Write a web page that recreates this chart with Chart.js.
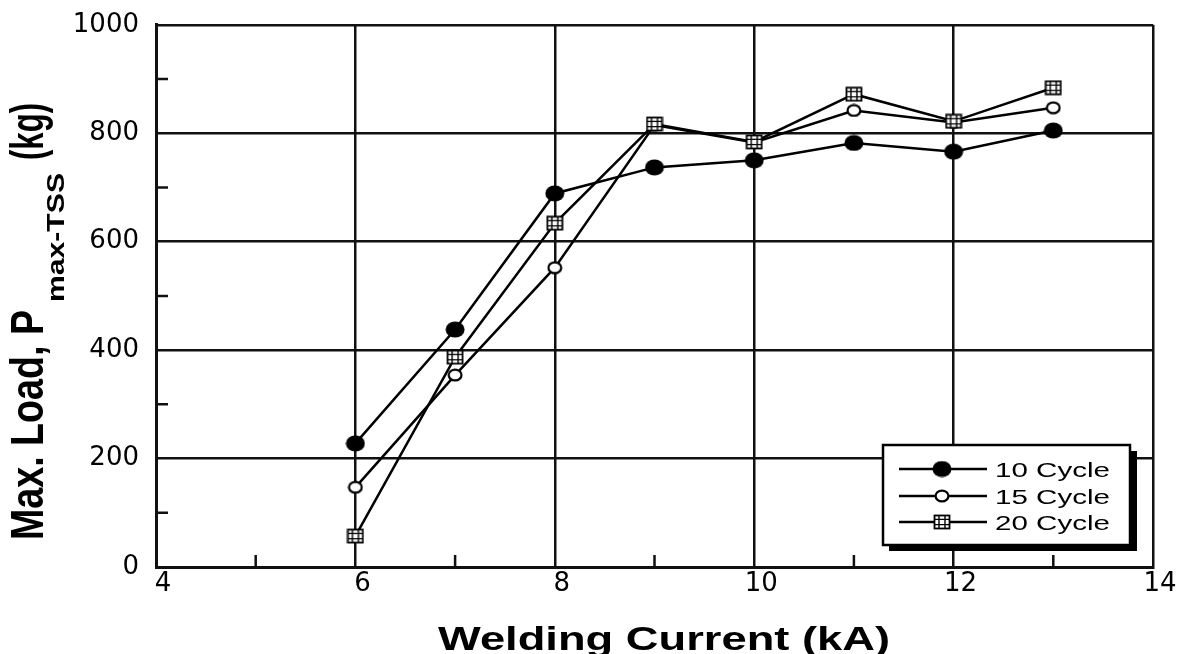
<!DOCTYPE html>
<html><head><meta charset="utf-8">
<script src="https://cdn.jsdelivr.net/npm/chart.js@4"></script>
<style>html,body{margin:0;padding:0;background:#fff;overflow:hidden}#wrap{width:1185px;height:654px;position:relative}</style>
</head><body><div id="wrap"><canvas id="c" width="1185" height="654"></canvas></div>
<script>
const currents = [6, 7, 8, 9, 10, 11, 12, 13];
const load10 = [228, 438, 689, 737, 750, 782, 766, 805];
const load15 = [147, 354, 552, 815, 783, 842, 820, 847];
const load20 = [57, 387, 634, 817, 784, 872, 822, 884];
const seriesNames = ['10 Cycle', '15 Cycle', '20 Cycle'];
const xTicks = [4, 6, 8, 10, 12, 14];
const yTicks = [0, 200, 400, 600, 800, 1000];
const xMinor = [5, 7, 9, 11, 13];
const yMinor = [100, 300, 500, 700, 900];
const xTitle = 'Welding Current (kA)';
const yTitleMain = 'Max. Load, P';
const yTitleSub = 'max-TSS';
const yTitleUnit = '(kg)';

function mk(w, h, draw) { const c = document.createElement('canvas'); c.width = w; c.height = h; draw(c.getContext('2d'), w, h); return c; }
const mFilled = mk(20, 17, (g, w, h) => { g.fillStyle = '#000'; g.beginPath(); g.ellipse(w/2, h/2, w/2 - 0.5, h/2 - 0.5, 0, 0, Math.PI*2); g.fill(); });
const mOpen = mk(16, 14, (g, w, h) => { g.fillStyle = '#fff'; g.strokeStyle = '#000'; g.lineWidth = 2.2; g.beginPath(); g.ellipse(w/2, h/2, w/2 - 1.6, h/2 - 1.6, 0, 0, Math.PI*2); g.fill(); g.stroke(); });
const mSquare = mk(18, 16, (g, w, h) => {
  g.fillStyle = '#fff'; g.fillRect(1, 1, w - 2, h - 2);
  g.strokeStyle = '#000'; g.lineWidth = 1.8; g.strokeRect(1.5, 1.5, w - 3, h - 3);
  g.lineWidth = 1.4; g.beginPath();
  g.moveTo(w/3, 1); g.lineTo(w/3, h - 1); g.moveTo(2*w/3, 1); g.lineTo(2*w/3, h - 1);
  g.moveTo(1, h/3); g.lineTo(w - 1, h/3); g.moveTo(1, 2*h/3); g.lineTo(w - 1, 2*h/3);
  g.stroke();
});
const markers = [mFilled, mOpen, mSquare];

function drawFit(ctx, text, size, weight, len, cap, x, y, rot) {
  ctx.save();
  ctx.font = weight + ' ' + size + 'px "Liberation Sans", Arial, sans-serif';
  const w = ctx.measureText(text).width;
  ctx.translate(x, y);
  if (rot) ctx.rotate(-Math.PI / 2);
  ctx.scale(len / w, cap / (0.716 * size));
  ctx.textBaseline = 'alphabetic'; ctx.textAlign = 'left'; ctx.fillStyle = '#000';
  ctx.fillText(text, 0, 0);
  ctx.restore();
}

const decor = {
  id: 'decor',
  beforeDatasetsDraw(chart) {
    const ctx = chart.ctx, xs = chart.scales.x, ys = chart.scales.y, a = chart.chartArea;
    ctx.save(); ctx.strokeStyle = '#111'; ctx.lineWidth = 2.5; ctx.beginPath();
    yMinor.forEach(v => { const p = ys.getPixelForValue(v); ctx.moveTo(a.left, p); ctx.lineTo(a.left + 12, p); });
    xMinor.forEach(v => { const p = xs.getPixelForValue(v); ctx.moveTo(p, a.bottom); ctx.lineTo(p, a.bottom - 12); });
    ctx.stroke(); ctx.restore();
  },
  afterDraw(chart) {
    const ctx = chart.ctx;
    drawFit(ctx, xTitle, 33, 'bold', 452, 24, 438, 650, false);
    drawFit(ctx, yTitleMain, 34, 'bold', 230, 33, 43, 540, true);
    drawFit(ctx, yTitleSub, 20, 'bold', 129, 17, 64, 302, true);
    drawFit(ctx, yTitleUnit, 34, 'bold', 57, 33, 43, 160, true);
    ctx.save();
    ctx.fillStyle = '#000';
    ctx.fillRect(889, 451, 248, 100);
    ctx.fillStyle = '#fff';
    ctx.fillRect(883, 445, 247, 100);
    ctx.strokeStyle = '#000'; ctx.lineWidth = 2.5;
    ctx.strokeRect(883, 445, 247, 100);
    const rows = [469, 496, 522];
    seriesNames.forEach((n, i) => {
      ctx.beginPath(); ctx.moveTo(899, rows[i]); ctx.lineTo(987, rows[i]); ctx.stroke();
      const m = markers[i];
      ctx.drawImage(m, 942 - m.width/2, rows[i] - m.height/2);
      drawFit(ctx, n, 21, 'normal', 115, 15, 995, rows[i] + 8, false);
    });
    ctx.restore();
  }
};

const series = [load10, load15, load20];
const orders = [2, 1, 0];
const datasets = series.map((vals, i) => ({
  label: seriesNames[i],
  data: currents.map((c, j) => ({ x: c, y: vals[j] })),
  borderColor: '#000', borderWidth: 2.5, fill: false, tension: 0,
  pointStyle: markers[i], pointRadius: 9, pointHoverRadius: 9,
  order: orders[i]
}));

new Chart(document.getElementById('c'), {
  type: 'line',
  data: { datasets },
  plugins: [decor],
  options: {
    responsive: false, animation: false, devicePixelRatio: 1,
    layout: { padding: { left: 0, right: 32, top: 14, bottom: 0 } },
    plugins: { legend: { display: false }, tooltip: { enabled: false } },
    scales: {
      x: {
        type: 'linear', min: 4, max: 14,
        afterBuildTicks: s => { s.ticks = xTicks.map(v => ({ value: v })); },
        ticks: { font: { family: 'DejaVu Sans', size: 26 }, color: '#000', padding: 2, labelOffset: 7, maxRotation: 0, autoSkip: false, callback: v => String(v) },
        grid: { color: '#111', lineWidth: 2.5, drawTicks: false },
        border: { color: '#111', width: 3 },
        afterFit: s => { s.height = 87; }
      },
      y: {
        type: 'linear', min: 0, max: 1000,
        afterBuildTicks: s => { s.ticks = yTicks.map(v => ({ value: v })); },
        ticks: { font: { family: 'DejaVu Sans', size: 26, lineHeight: 0.6 }, color: '#000', padding: 17, autoSkip: false, callback: v => String(v) },
        grid: { color: '#111', lineWidth: 2.5, drawTicks: false },
        border: { color: '#111', width: 3 },
        afterFit: s => { s.width = 156; }
      }
    }
  }
});
</script></body></html>
